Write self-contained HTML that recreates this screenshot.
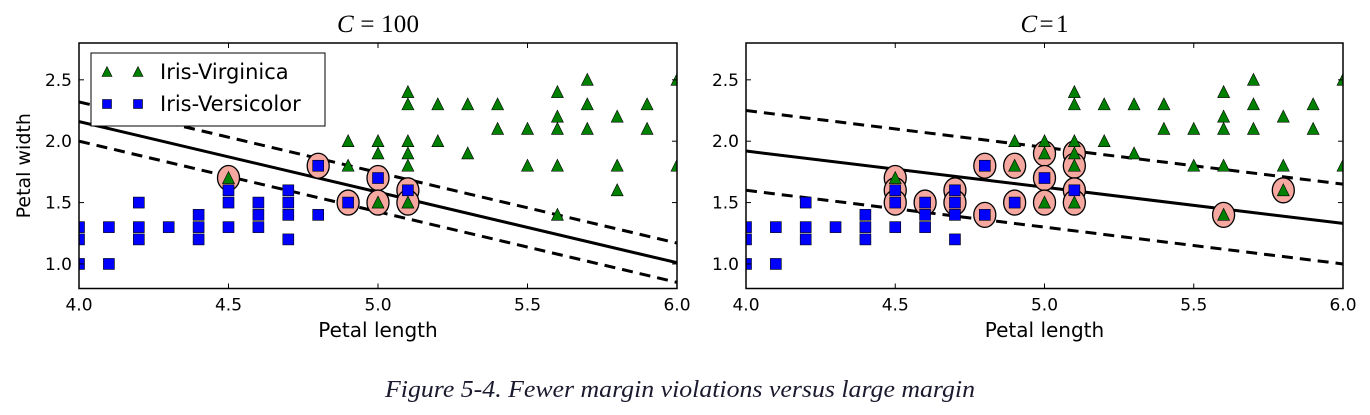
<!DOCTYPE html>
<html><head><meta charset="utf-8"><style>
body{margin:0;background:#fff;width:1370px;height:410px;overflow:hidden}
svg text{font-family:"DejaVu Sans","Liberation Sans",sans-serif}
</style></head><body>
<svg id="fig" width="1370" height="410" xmlns="http://www.w3.org/2000/svg">
<text x="680" y="397" text-anchor="middle" textLength="590" lengthAdjust="spacingAndGlyphs" style="font-family:'Liberation Serif',serif;font-style:italic;font-size:24px" fill="#1a1a2e">Figure 5-4. Fewer margin violations versus large margin</text>
</svg>
<script>
const versX=[4.0,4.0,4.0,4.1,4.1,4.2,4.2,4.2,4.3,4.4,4.4,4.4,4.5,4.5,4.5,4.6,4.6,4.6,4.7,4.7,4.7,4.7,4.8,4.8,4.9,5.0,5.1];
const versY=[1.3,1.2,1.0,1.3,1.0,1.5,1.3,1.2,1.3,1.4,1.3,1.2,1.6,1.5,1.3,1.5,1.4,1.3,1.6,1.5,1.4,1.2,1.4,1.8,1.5,1.7,1.6];
const virgX=[4.5,4.9,4.9,5.0,5.0,5.0,5.1,5.1,5.1,5.1,5.1,5.1,5.2,5.2,5.3,5.3,5.4,5.4,5.5,5.5,5.6,5.6,5.6,5.6,5.6,5.7,5.7,5.7,5.8,5.8,5.8,5.9,5.9,6.0,6.0];
const virgY=[1.7,1.8,2.0,2.0,1.9,1.5,2.4,2.3,2.0,1.9,1.8,1.5,2.3,2.0,2.3,1.9,2.3,2.1,2.1,1.8,2.4,2.2,2.1,1.8,1.4,2.5,2.3,2.1,2.2,1.8,1.6,2.3,2.1,2.5,1.8];
const svLeftX=[4.5,4.8,5.0,5.1,4.9,5.0,5.1];
const svLeftY=[1.7,1.8,1.7,1.6,1.5,1.5,1.5];
const svRightX=[4.5,4.5,4.5,4.6,4.7,4.7,4.8,4.8,4.9,4.9,5.0,5.0,5.0,5.1,5.1,5.1,5.1,5.6,5.8];
const svRightY=[1.7,1.6,1.5,1.5,1.6,1.5,1.8,1.4,1.8,1.5,1.9,1.7,1.5,1.9,1.8,1.6,1.5,1.4,1.6];
// boundary values at x=4.0 and x=6.0: [solid, upper, lower]
const leftLinesY0=[2.16,2.32,2.00];
const leftLinesY1=[1.01,1.17,0.85];
const rightLinesY0=[1.92,2.25,1.60];
const rightLinesY1=[1.33,1.65,1.00];
const xTicks=[4.0,4.5,5.0,5.5,6.0];
const xTickLabels=["4.0","4.5","5.0","5.5","6.0"];
const yTicks=[1.0,1.5,2.0,2.5];
const yTickLabels=["1.0","1.5","2.0","2.5"];

const NS="http://www.w3.org/2000/svg";
const svg=document.getElementById('fig');
function mk(tag,attrs,parent){const e=document.createElementNS(NS,tag);for(const k in attrs)e.setAttribute(k,attrs[k]);(parent||svg).appendChild(e);return e;}

function panel(name,left,right,title,titleLen,sX,sY,l0,l1,showLegend,showYLabel){
  const top=43,bottom=288.5;
  const sx=v=>left+(v-4)/2*(right-left);
  const sy=v=>bottom-(v-0.8)/2*(bottom-top);
  const g=mk('g',{});
  
  
  const clipId=name+'-clip';
  const cp=mk('clipPath',{id:clipId},g);mk('rect',{x:left,y:top,width:right-left,height:bottom-top},cp);
  const plot=mk('g',{'clip-path':'url(#'+clipId+')'},g);
  const dashes=[null,'11,7','11,7'];
  for(let i=0;i<3;i++){
    const ln=mk('line',{x1:sx(4),y1:sy(l0[i]),x2:sx(6),y2:sy(l1[i]),stroke:'#000','stroke-width':3,'stroke-dasharray':dashes[i]||'none'},plot);
    
    
  }
  for(let i=0;i<sX.length;i++){
    const c=mk('ellipse',{cx:sx(sX[i]),cy:sy(sY[i]),rx:11,ry:12.5,fill:'#f4a8a0',stroke:'#000','stroke-width':1.3},plot);
    
    
  }
  for(let i=0;i<versX.length;i++){
    const x=sx(versX[i]),y=sy(versY[i]);
    const r=mk('rect',{x:x-5.5,y:y-5.5,width:11,height:11,fill:'#0000ff',stroke:'#000','stroke-width':0.6},plot);
    
    
  }
  for(let i=0;i<virgX.length;i++){
    const x=sx(virgX[i]),y=sy(virgY[i]);
    const p=mk('polygon',{points:`${x},${y-6.5} ${x-6},${y+5.5} ${x+6},${y+5.5}`,fill:'#008000',stroke:'#000','stroke-width':0.6},plot);
    
    
  }
  const fr=mk('rect',{x:left,y:top,width:right-left,height:bottom-top,fill:'none',stroke:'#000','stroke-width':1.5},g);
  
  
  xTicks.forEach((t,i)=>{
    const x=sx(t);
    mk('line',{x1:x,y1:bottom,x2:x,y2:bottom-5,stroke:'#000'},g);
    mk('line',{x1:x,y1:top,x2:x,y2:top+5,stroke:'#000'},g);
    const tx=mk('text',{x:x,y:bottom+22,'text-anchor':'middle','font-size':17},g);
    tx.textContent=xTickLabels[i];
    
    
  });
  yTicks.forEach((t,i)=>{
    const y=sy(t);
    mk('line',{x1:left,y1:y,x2:left+5,y2:y,stroke:'#000'},g);
    mk('line',{x1:right,y1:y,x2:right-5,y2:y,stroke:'#000'},g);
    const tx=mk('text',{x:left-7,y:y+6,'text-anchor':'end','font-size':17},g);
    tx.textContent=yTickLabels[i];
    
    
  });
  const xl=mk('text',{x:(left+right)/2,y:337,'text-anchor':'middle','font-size':20},g);
  xl.textContent='Petal length';
  
  
  if(showYLabel){
    const yl=mk('text',{x:0,y:0,'text-anchor':'middle','font-size':19,transform:`translate(30,${(top+bottom)/2}) rotate(-90)`},g);
    yl.textContent='Petal width';
    
    
  }
  const tt=mk('text',{x:(left+right)/2,y:32,'text-anchor':'middle','font-size':25,textLength:titleLen,lengthAdjust:'spacing',style:"font-family:'Liberation Serif',serif"},g);
  tt.innerHTML='<tspan font-style="italic">C</tspan> = '+title;
  
  
  if(showLegend){
    const lg=mk('g',{},g);
    
    
    mk('rect',{x:91,y:53,width:234,height:73,fill:'#fff',stroke:'#000','stroke-width':1},lg);
    [[107,72],[138,72]].forEach(([x,y])=>mk('polygon',{points:`${x},${y-5.5} ${x-5},${y+4.5} ${x+5},${y+4.5}`,fill:'#008000',stroke:'#000','stroke-width':0.6},lg));
    [[107,104],[138,104]].forEach(([x,y])=>mk('rect',{x:x-4.5,y:y-4.5,width:9,height:9,fill:'#0000ff',stroke:'#000','stroke-width':0.6},lg));
    const a=mk('text',{x:160,y:79,'font-size':21},lg);a.textContent='Iris-Virginica';
    
    
    const b=mk('text',{x:160,y:111,'font-size':21},lg);b.textContent='Iris-Versicolor';
    
    
  }
}
panel('left-panel-c100',79,677,'100',82,svLeftX,svLeftY,leftLinesY0,leftLinesY1,true,true);
panel('right-panel-c1',746,1343,'1',48,svRightX,svRightY,rightLinesY0,rightLinesY1,false,false);
</script>
</body></html>
